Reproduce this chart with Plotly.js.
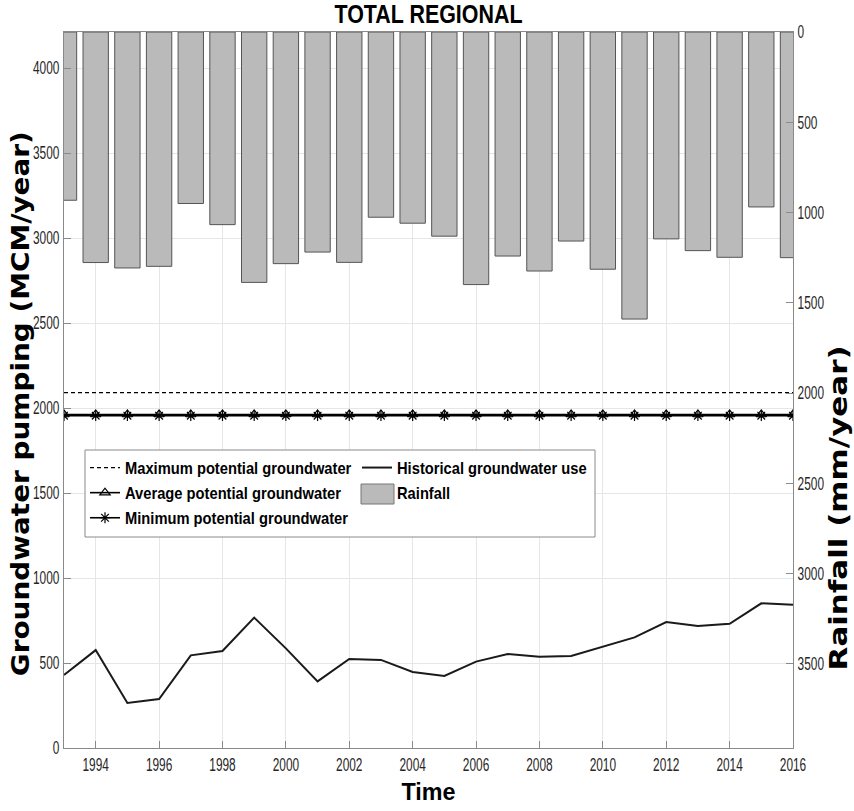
<!DOCTYPE html>
<html>
<head>
<meta charset="utf-8">
<script src="https://cdn.plot.ly/plotly-3.0.1.min.js"></script>
<style>html,body{margin:0;padding:0;background:#fff;}#chart{width:854px;height:811px;}</style>
</head>
<body>
<div id="chart"></div>
<script>
const years = [1993,1994,1995,1996,1997,1998,1999,2000,2001,2002,2003,2004,2005,2006,2007,2008,2009,2010,2011,2012,2013,2014,2015,2016];
const rainfall = [932,1277,1307,1298,950,1067,1387,1283,1219,1276,1026,1059,1131,1399,1241,1324,1158,1314,1590,1146,1211,1248,969,1250];
const historicalUse = [429,576,265,288,545,571,767,586,392,524,518,447,424,508,553,537,541,596,651,741,718,731,851,843];
const maxPotential = [2090,2090,2090,2090,2090,2090,2090,2090,2090,2090,2090,2090,2090,2090,2090,2090,2090,2090,2090,2090,2090,2090,2090,2090];
const avgPotential = [1962,1962,1962,1962,1962,1962,1962,1962,1962,1962,1962,1962,1962,1962,1962,1962,1962,1962,1962,1962,1962,1962,1962,1962];
const minPotential = [1955,1955,1955,1955,1955,1955,1955,1955,1955,1955,1955,1955,1955,1955,1955,1955,1955,1955,1955,1955,1955,1955,1955,1955];
const xTicks = [1994,1996,1998,2000,2002,2004,2006,2008,2010,2012,2014,2016];

const SANS = "'Liberation Sans', Arial, sans-serif";
const WIDE = "'DejaVu Sans', sans-serif";
const legendFont = {family: SANS, size: 17, color: '#000', weight: 'bold'};
const tickFont = {family: SANS, size: 18, color: '#262626'};
const axisCol = '#8a8a8a';

const data = [
  {type:'bar', x: years, y: rainfall, yaxis:'y2', name:'Rainfall', width:0.8, showlegend:false,
   marker:{color:'#bababa', line:{color:'#555', width:1}}, hoverinfo:'skip'},
  {type:'scatter', mode:'lines', x: years, y: maxPotential, name:'Maximum potential groundwater',
   line:{color:'#000', width:1.3, dash:'4px,3px'}, legendrank:1, hoverinfo:'skip'},
  {type:'scatter', mode:'lines', x: years, y: historicalUse, name:'Historical groundwater use',
   line:{color:'#1a1a1a', width:2}, legendrank:2, hoverinfo:'skip'},
  {type:'scatter', mode:'lines+markers', x: years, y: avgPotential, name:'Average potential groundwater',
   line:{color:'#000', width:1.6}, marker:{symbol:'triangle-up-open', size:9, color:'#000', line:{width:1.2}},
   legendrank:3, hoverinfo:'skip'},
  {type:'scatter', mode:'markers', x:[years[0]], y:[null], name:'Rainfall',
   marker:{opacity:0, size:1, color:'rgba(0,0,0,0)', line:{width:0}}, legendrank:4, hoverinfo:'skip'},
  {type:'scatter', mode:'lines+markers', x: years, y: minPotential, name:'Minimum potential groundwater',
   line:{color:'#000', width:1.6}, marker:{symbol:'asterisk-open', size:9, color:'#000', line:{width:1.2, color:'#000'}},
   legendrank:5, hoverinfo:'skip'}
];

const px2x = p => (p - 64) / 729;
const px2y = p => (748 - p) / 716;

const layout = {
  width: 854, height: 811,
  margin: {l:64, r:61, t:32, b:63},
  paper_bgcolor:'#fff', plot_bgcolor:'#fff',
  showlegend: true,
  title: {text:'TOTAL REGIONAL', font:{family: SANS, size:25, color:'#000', weight:'bold'},
          x:0.5, xref:'paper', xanchor:'center', y:0.982, yref:'container', yanchor:'middle'},
  xaxis: {range:[1993,2016], tickvals: xTicks, ticks:'inside', ticklen:7, tickcolor:axisCol,
          showgrid:true, gridcolor:'#e6e6e6', showline:true, linecolor:axisCol, mirror:true, zeroline:false,
          tickfont: tickFont,
          title:{text:'Time', font:{family: SANS, size:24, color:'#000', weight:'bold'}, standoff:9}},
  yaxis: {range:[0,4212], dtick:500, ticks:'inside', ticklen:7, tickcolor:axisCol,
          showgrid:true, gridcolor:'#e6e6e6', showline:true, linecolor:axisCol, zeroline:false,
          tickfont: tickFont},
  yaxis2: {range:[3966,0], dtick:500, overlaying:'y', side:'right', ticks:'inside', ticklen:7, tickcolor:axisCol,
          showgrid:false, showline:true, linecolor:axisCol, zeroline:false,
          tickfont: tickFont},
  annotations: [
    {text:'Groundwater pumping (MCM/year)', textangle:-90, xref:'paper', yref:'paper',
     x: px2x(21), y: px2y(404), xanchor:'center', yanchor:'middle', showarrow:false,
     font:{family: WIDE, size:25, color:'#000', weight:'bold'}},
    {text:'Rainfall (mm/year)', textangle:-90, xref:'paper', yref:'paper',
     x: px2x(839), y: px2y(508), xanchor:'center', yanchor:'middle', showarrow:false,
     font:{family: WIDE, size:24, color:'#000', weight:'bold'}}
  ],
  legend: {orientation:'h', x: px2x(85), y: px2y(450), xanchor:'left', yanchor:'top',
           bgcolor:'rgba(0,0,0,0)', borderwidth:0, entrywidth:227, entrywidthmode:'pixels',
           font: legendFont, traceorder:'normal', itemwidth:30, tracegroupgap:0},
  shapes: [
    {type:'rect', xref:'paper', yref:'paper', x0: px2x(85), x1: px2x(595), y0: px2y(537), y1: px2y(450),
     fillcolor:'#fff', line:{color:axisCol, width:1}, layer:'above'},
    {type:'rect', xref:'paper', yref:'paper', x0: px2x(361), x1: px2x(394), y0: px2y(504), y1: px2y(484),
     fillcolor:'#bababa', line:{color:'#777', width:1}, layer:'above'}
  ]
};

function squeeze(sel, factor, target) {
  document.querySelectorAll('#chart ' + sel).forEach(t => {
    t.removeAttribute('textLength');
    t.removeAttribute('lengthAdjust');
    const L = t.getComputedTextLength();
    if (!L) return;
    const len = target ? target : L * factor;
    t.setAttribute('textLength', len.toFixed(1));
    t.setAttribute('lengthAdjust', 'spacingAndGlyphs');
  });
}

function applyAll() {
  squeeze('g.xtick text', 0.66);
  squeeze('g.ytick text', 0.66);
  squeeze('g.y2tick text', 0.66);
  squeeze('text.legendtext', 0.865);
  squeeze('.gtitle', 1, 188);
  squeeze('.g-xtitle text', 1, 54);
  const ann = document.querySelectorAll('#chart .annotation-text');
  if (ann[0]) { ann[0].setAttribute('textLength', '545'); ann[0].setAttribute('lengthAdjust','spacingAndGlyphs'); }
  if (ann[1]) { ann[1].setAttribute('textLength', '325'); ann[1].setAttribute('lengthAdjust','spacingAndGlyphs'); }
}

const gd = document.getElementById('chart');
Plotly.newPlot(gd, data, layout, {staticPlot:true, displayModeBar:false}).then(() => {
  applyAll();
  gd.on('plotly_afterplot', applyAll);
});
</script>
</body>
</html>
